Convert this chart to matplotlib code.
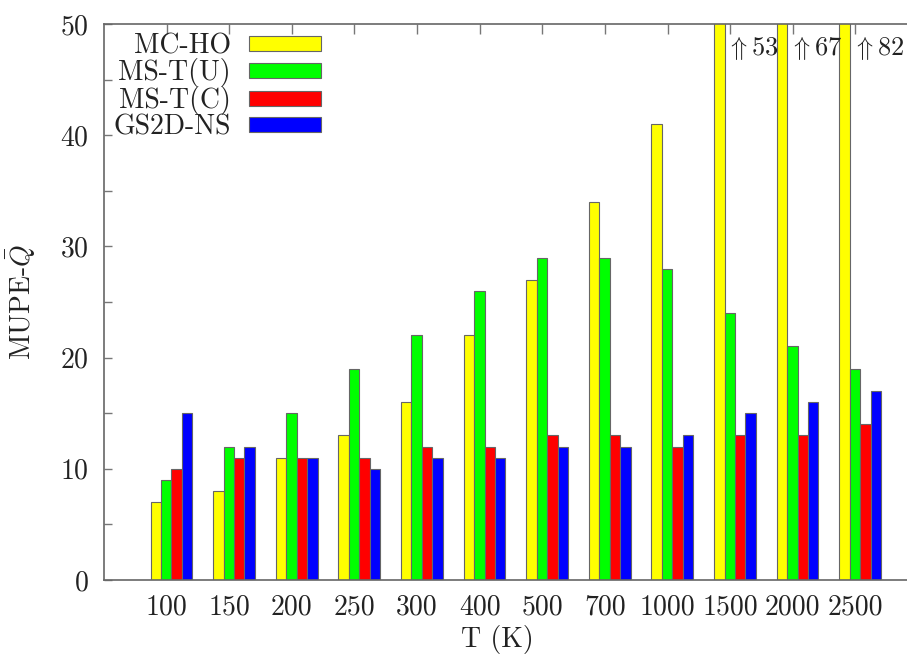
import numpy as np
import matplotlib
matplotlib.use('Agg')
import matplotlib.pyplot as plt
from matplotlib.ticker import MultipleLocator

plt.rcParams['font.family'] = ['cmr10', 'DejaVu Serif']
plt.rcParams['mathtext.fontset'] = 'cm'
plt.rcParams['axes.formatter.use_mathtext'] = True

# data
temps = ['100', '150', '200', '250', '300', '400', '500', '700', '1000', '1500', '2000', '2500']
mc_ho = [7, 8, 11, 13, 16, 22, 27, 34, 41, 53, 67, 82]
ms_tu = [9, 12, 15, 19, 22, 26, 29, 29, 28, 24, 21, 19]
ms_tc = [10, 11, 11, 11, 12, 12, 13, 13, 12, 13, 13, 14]
gs2d_ns = [15, 12, 11, 10, 11, 11, 12, 12, 13, 15, 16, 17]

names = ['MC-HO', 'MS-T(U)', 'MS-T(C)', 'GS2D-NS']
colors = ['#ffff00', '#00ff00', '#ff0000', '#0000ff']
series = [mc_ho, ms_tu, ms_tc, gs2d_ns]

fs = 20

fig = plt.figure(figsize=(9.07, 6.56), dpi=100)
# frame runs past the right edge like the original
ax = fig.add_axes([104/907, 1 - 580/656, (918-104)/907, (580-24)/656])

x = np.arange(len(temps))
w = 1/6
for j in range(4):
    ax.bar(x + 0.077 + (j - 1.5)*w, series[j], w, color=colors[j],
           edgecolor='#666666', linewidth=0.8, label=names[j], zorder=2)

# values that run off the top
ymax = 50
for i in range(len(temps)):
    if mc_ho[i] > ymax:
        ax.text(x[i] - 0.06, 47.8, r'$\Uparrow$' + str(mc_ho[i]), ha='left', va='center',
                fontsize=fs - 1, color='#222222')

ax.set_xlim(-1, 12)
ax.set_ylim(0, ymax)
ax.set_xticks(x)
ax.set_xticklabels(temps)
ax.yaxis.set_major_locator(MultipleLocator(10))
ax.yaxis.set_minor_locator(MultipleLocator(5))

ax.tick_params(axis='x', which='both', top=True, bottom=False, labelbottom=True,
               direction='in', length=7, width=1, color='#777777', pad=10,
               labelsize=fs, labelcolor='#222222')
ax.tick_params(axis='y', which='both', left=True, right=False, direction='in',
               length=6, width=1, color='#777777', pad=11, labelsize=fs,
               labelcolor='#222222')

for s in ax.spines.values():
    s.set_color('#666666')
    s.set_linewidth(1.2)

ax.set_xlabel('T (K)', fontsize=fs, color='#222222')
ax.xaxis.set_label_coords((497-104)/(918-104), -(625-580)/556)
ax.set_ylabel(r'MUPE-$\bar{Q}$', fontsize=fs, color='#222222')
ax.yaxis.set_label_coords(-(104-38)/814, 0.5)

leg = ax.legend(loc='upper right', bbox_to_anchor=(321/907, 1 - 33/656),
                bbox_transform=fig.transFigure, frameon=False, markerfirst=False,
                alignment='right', fontsize=fs, handlelength=2.6, handleheight=0.47,
                handletextpad=0.65, labelspacing=-0.04, borderpad=0, borderaxespad=0)
for t in leg.get_texts():
    t.set_color('#222222')

fig.savefig('out.png', dpi=100)
